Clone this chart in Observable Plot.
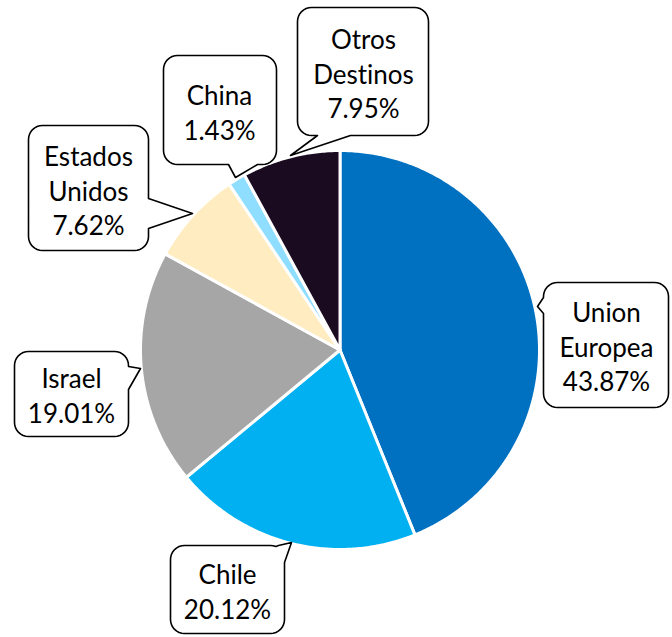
<!DOCTYPE html>
<html>
<head>
<meta charset="utf-8">
<script src="https://cdn.jsdelivr.net/npm/d3@7"></script>
<script src="https://cdn.jsdelivr.net/npm/@observablehq/plot@0.6"></script>
<style>
  html, body { margin: 0; padding: 0; background: #ffffff; }
  #chart svg { display: block; }
  #chart text { font-variant-ligatures: none; font-feature-settings: "liga" 0; }
</style>
</head>
<body>
<div id="chart"></div>
<script>
// ---- data ----
const names = ["Union Europea", "Chile", "Israel", "Estados Unidos", "China", "Otros Destinos"];
const shares = [43.87, 20.12, 19.01, 7.62, 1.43, 7.95];
const colors = ["#0070C0", "#00B0F0", "#A6A6A6", "#FFECC0", "#90DEFF", "#1A0B21"];

// ---- layout (pixels) ----
const W = 672, H = 637;
const center = [339.5, 349.5], radius = 199.5;
const callouts = [
  {box: [543, 282, 668, 407], tail: [[543, 313], [537, 306], [543, 297]], text: [606, 345]},
  {box: [170, 545, 284, 633], tail: [[278, 545], [291, 542], [284, 562]], text: [227, 590]},
  {box: [14, 351, 128, 436], tail: [[128, 366], [140, 368], [128, 389]], text: [71, 394]},
  {box: [28, 125, 148, 250], tail: [[148, 198], [192, 213], [148, 228]], text: [88, 189]},
  {box: [163, 55, 276, 164], tail: [[257, 164], [235, 177], [228, 164]], text: [219, 111]},
  {box: [297, 7, 428, 135], tail: [[350, 135], [290, 155], [317, 135]], text: [363, 72]}
];
const cornerR = 14;

// ---- pie slices as polygons ----
const arcs = d3.pie().sort(null).value(d => d)(shares);
const sliceMarks = arcs.map((a, i) => {
  const pts = [{x: center[0], y: center[1]}];
  const n = Math.max(4, Math.ceil((a.endAngle - a.startAngle) / 0.01));
  for (let k = 0; k <= n; k++) {
    const t = a.startAngle + (a.endAngle - a.startAngle) * k / n;
    pts.push({x: center[0] + radius * Math.sin(t), y: center[1] - radius * Math.cos(t)});
  }
  pts.push({x: center[0], y: center[1]});
  return Plot.line(pts, {x: "x", y: "y", fill: colors[i], stroke: "white", strokeWidth: 3, strokeLinejoin: "round", curve: "linear"});
});

// ---- callout shapes ----
function calloutPath(c, r) {
  const [x0, y0, x1, y1] = c.box;
  const w = x1 - x0, h = y1 - y0, qa = Math.PI * r / 2;
  const pts = [];
  let s = 0;
  const L1 = w - 2 * r, L3 = h - 2 * r;
  pts.push({x: x0 + r, y: y0, s: 0});
  pts.push({x: x1 - r, y: y0, s: L1});
  s = L1;
  const arc = (cx, cy, th0, sStart) => {
    for (let k = 1; k <= 8; k++) {
      const th = th0 + (Math.PI / 2) * k / 8;
      pts.push({x: cx + r * Math.cos(th), y: cy + r * Math.sin(th), s: sStart + qa * k / 8});
    }
  };
  arc(x1 - r, y0 + r, -Math.PI / 2, s); s += qa;
  pts.push({x: x1, y: y1 - r, s: s + L3}); s += L3;
  arc(x1 - r, y1 - r, 0, s); s += qa;
  pts.push({x: x0 + r, y: y1, s: s + L1}); s += L1;
  arc(x0 + r, y1 - r, Math.PI / 2, s); s += qa;
  pts.push({x: x0, y: y0 + r, s: s + L3}); s += L3;
  arc(x0 + r, y0 + r, Math.PI, s); s += qa;

  const sOf = ([px, py]) => {
    if (Math.abs(py - y0) < 0.6) return px - (x0 + r);
    if (Math.abs(px - x1) < 0.6) return L1 + qa + (py - (y0 + r));
    if (Math.abs(py - y1) < 0.6) return L1 + qa + L3 + qa + ((x1 - r) - px);
    return 2 * L1 + L3 + 3 * qa + ((y1 - r) - py);
  };
  const bA = {x: c.tail[0][0], y: c.tail[0][1], s: sOf(c.tail[0])};
  const bB = {x: c.tail[2][0], y: c.tail[2][1], s: sOf(c.tail[2])};
  const [b1, b2] = bA.s < bB.s ? [bA, bB] : [bB, bA];
  const tip = {x: c.tail[1][0], y: c.tail[1][1]};
  const out = pts.filter(p => p.s < b1.s).concat([b1, tip, b2], pts.filter(p => p.s > b2.s));
  out.push(out[0]);
  return out;
}

const calloutMarks = callouts.map(c =>
  Plot.line(calloutPath(c, cornerR), {x: "x", y: "y", fill: "white", stroke: "black", strokeWidth: 1.6, strokeLinejoin: "round", curve: "linear"})
);

const labels = names.map((n, i) => ({
  x: callouts[i].text[0],
  y: callouts[i].text[1],
  label: n.replace(" ", "\n") + "\n" + shares[i].toFixed(2) + "%"
}));

const chart = Plot.plot({
  width: W,
  height: H,
  margin: 0,
  style: {background: "white"},
  x: {domain: [0, W], range: [0, W], axis: null},
  y: {domain: [0, H], range: [0, H], axis: null},
  marks: [
    ...sliceMarks,
    ...calloutMarks,
    Plot.text(labels, {x: "x", y: "y", text: "label", fontSize: 26, lineHeight: 1.33, fontFamily: "Lato, 'Open Sans', sans-serif", fill: "black", textAnchor: "middle", lineAnchor: "middle"})
  ]
});
document.getElementById("chart").appendChild(chart);
</script>
</body>
</html>
